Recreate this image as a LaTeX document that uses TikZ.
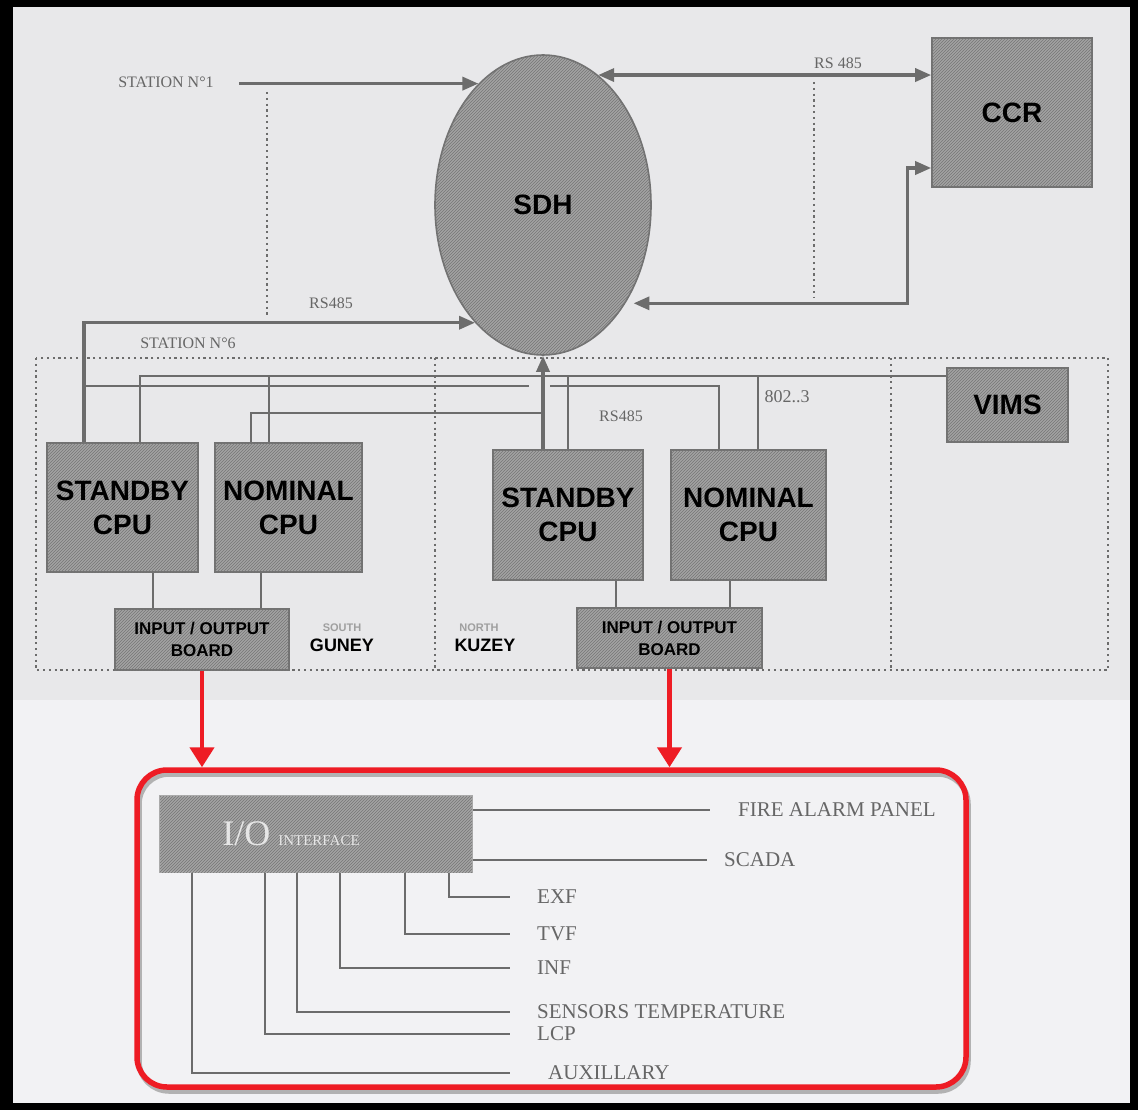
\documentclass[tikz,border=0pt]{standalone}
\usepackage{fontspec}
\setmainfont{Liberation Serif}
\newfontfamily\arialf{Liberation Sans}
\usetikzlibrary{arrows.meta,patterns,shapes.geometric}

\definecolor{blackframe}{HTML}{000000}
\definecolor{paper}{HTML}{E8E8EA}
\definecolor{paperlow}{HTML}{F2F2F4}
\definecolor{boxgrey}{HTML}{A3A3A3}
\definecolor{hatch}{HTML}{767676}
\definecolor{boxedge}{HTML}{727272}
\definecolor{wiregrey}{HTML}{6C6C6C}
\definecolor{inkgrey}{HTML}{666666}
\definecolor{iotext}{HTML}{E6E6E6}
\definecolor{alarmred}{HTML}{EE1C24}

\begin{document}
\begin{tikzpicture}[x=1pt, y=-1pt,
  >={Triangle[length=16pt,width=13pt]},
  hbox/.style={draw=boxedge, line width=1.6pt, fill=boxgrey,
    postaction={pattern=north east lines, pattern color=hatch},
    inner sep=0pt, align=center, text=black},
  bigtext/.style={font=\arialf\bfseries\fontsize{28}{34}\selectfont},
  boardtext/.style={font=\arialf\bfseries\fontsize{17}{22}\selectfont},
  link/.style={draw=wiregrey, line width=3.4pt},
  wire/.style={draw=wiregrey, line width=2.4pt},
  fine/.style={draw=wiregrey, line width=1.6pt},
  zone/.style={draw=wiregrey, line width=2.6pt, dash pattern=on 2.2pt off 3.6pt},
  lbl/.style={text=inkgrey, inner sep=0pt, font=\fontsize{16}{18}\selectfont},
  outlbl/.style={text=inkgrey, inner sep=0pt, anchor=west, font=\fontsize{21}{24}\selectfont},
  redline/.style={draw=alarmred, line width=4.5pt, -{Triangle[length=20pt,width=24pt]}}]

  \fill[blackframe] (0,0) rectangle (1138,1110);
  \fill[paperlow] (13,7) rectangle (1130,1103);
  \fill[paper] (13,7) rectangle (1130,700);
  \useasboundingbox (0,0) rectangle (1138,1110);

  % stations
  \draw[zone] (36,358) rectangle (1108,670);
  \draw[zone] (435,358) -- (435,670);
  \draw[zone] (891,358) -- (891,670);
  \draw[zone] (267,92) -- (267,317);
  \draw[zone] (814,82) -- (814,298);

  \node[hbox, ellipse, minimum width=216pt, minimum height=300pt, bigtext] (sdh) at (543,205) {SDH};
  \node[hbox, minimum width=160pt, minimum height=149pt, bigtext] (ccr) at (1012,112.5) {CCR};
  \node[hbox, minimum width=121pt, minimum height=74pt, bigtext] (vims) at (1007.5,405) {VIMS};

  \node[hbox, minimum width=151pt, minimum height=129pt, bigtext] (gsby) at (122.5,507.5) {STANDBY\\CPU};
  \node[hbox, minimum width=147pt, minimum height=129pt, bigtext] (gnom) at (288.5,507.5) {NOMINAL\\CPU};
  \node[hbox, minimum width=174pt, minimum height=61pt, boardtext] (gio) at (202,639.5) {INPUT / OUTPUT\\BOARD};
  \node[hbox, minimum width=150pt, minimum height=130pt, bigtext] (ksby) at (568,515) {STANDBY\\CPU};
  \node[hbox, minimum width=155pt, minimum height=130pt, bigtext] (knom) at (748.5,515) {NOMINAL\\CPU};
  \node[hbox, minimum width=185pt, minimum height=60pt, boardtext] (kio) at (669.5,638) {INPUT / OUTPUT\\BOARD};

  \node[lbl] (st1) at (166,82) {STATION N°1};
  \node[lbl] (rsa) at (331,303) {RS485};
  \node[lbl] (st6) at (188,343) {STATION N°6};
  \node[lbl] (rsb) at (838,63) {RS 485};
  \node[lbl] (rsc) at (621,416) {RS485};
  \node[lbl, font=\fontsize{18}{20}\selectfont] (eth) at (787,397) {802..3};
  \node[text=gray!75, inner sep=0pt, font=\arialf\bfseries\fontsize{11}{12}\selectfont] (south) at (342,628) {SOUTH};
  \node[inner sep=0pt, font=\arialf\bfseries\fontsize{18}{20}\selectfont] (guney) at (342,645) {GUNEY};
  \node[text=gray!75, inner sep=0pt, font=\arialf\bfseries\fontsize{11}{12}\selectfont] (north) at (479,628) {NORTH};
  \node[inner sep=0pt, font=\arialf\bfseries\fontsize{18}{20}\selectfont] (kuzey) at (485,645) {KUZEY};

  % links to SDH and CCR
  \draw[link,->,shorten <=25pt] (st1.east |- sdh.118) -- (sdh.118);
  \draw[link,->] ([xshift=-38.5pt]gsby.north) |- (sdh.240);
  \draw[link,<->] (sdh.67) -- (sdh.67 -| ccr.west);
  \draw[link,<->,shorten <=8pt] (sdh.-50) -| ([xshift=-24pt,yshift=-55.5pt]ccr.west) -- ([yshift=-55.5pt]ccr.west);
  \draw[link,->] (sdh.south |- ksby.north) -- (sdh.south);

  % station buses
  \coordinate (bus1) at (140,376);
  \coordinate (bus2) at (84,386);
  \coordinate (bus3) at (251,413);
  \draw[fine] (bus1 |- gsby.north) -- (bus1) -- ([yshift=29pt]vims.west);
  \draw[fine] ([xshift=-19.5pt]gnom.north) -- ([xshift=-19.5pt]gnom.north |- bus1);
  \draw[fine] (ksby.north) -- (ksby.north |- bus1);
  \draw[fine] ([xshift=9.5pt]knom.north) -- ([xshift=9.5pt]knom.north |- bus1);
  \draw[wire] (bus2) -- ([xshift=-14pt]bus2 -| sdh.south);
  \draw[wire] ([xshift=7pt]bus2 -| sdh.south) -| ([xshift=-29.5pt]knom.north);
  \draw[wire] (bus3 |- gnom.north) -- (bus3) -- (bus3 -| sdh.south);

  \draw[wire] ([xshift=30.5pt]gsby.south) -- ([xshift=30.5pt]gsby.south |- gio.north);
  \draw[wire] ([xshift=-27.5pt]gnom.south) -- ([xshift=-27.5pt]gnom.south |- gio.north);
  \draw[wire] ([xshift=48pt]ksby.south) -- ([xshift=48pt]ksby.south |- kio.north);
  \draw[wire] ([xshift=-18.5pt]knom.south) -- ([xshift=-18.5pt]knom.south |- kio.north);

  % detail of the boards
  \node[draw=alarmred, line width=5.5pt, rounded corners=30pt, minimum width=829pt, minimum height=317pt,
    preaction={draw=black!30, line width=5.5pt, transform canvas={xshift=2pt,yshift=-4pt}}] (panel) at (551.5,928.5) {};
  \draw[redline] (gio.south) -- (gio.south |- panel.north);
  \draw[redline] (kio.south) -- (kio.south |- panel.north);

  \node[hbox, draw=boxedge!60, minimum width=312pt, minimum height=76pt, text=iotext] (iof) at (316,834)
    {{\fontsize{36}{36}\selectfont I/O}\hspace{8pt}{\fontsize{15}{15}\selectfont INTERFACE}\hspace{50pt}};

  \node[outlbl] (lfire) at (738,810) {FIRE ALARM PANEL};
  \node[outlbl] (lscada) at (724,860) {SCADA};
  \node[outlbl] (lexf) at (537,897) {EXF};
  \node[outlbl] (ltvf) at (537,934) {TVF};
  \node[outlbl] (linf) at (537,968) {INF};
  \node[outlbl] (lsens) at (537,1012) {SENSORS TEMPERATURE};
  \node[outlbl] (llcp) at (537,1034) {LCP};
  \node[outlbl] (laux) at (548,1073) {AUXILLARY};

  \draw[fine] ([yshift=24pt]iof.east) -- ([xshift=-28pt]lfire.west);
  \draw[fine] ([yshift=-26pt]iof.east) -- ([xshift=-17pt]lscada.west);
  \draw[fine] ([xshift=133pt]iof.south) |- ([xshift=-27pt]lexf.west);
  \draw[fine] ([xshift=89pt]iof.south) |- ([xshift=-27pt]ltvf.west);
  \draw[fine] ([xshift=24pt]iof.south) |- ([xshift=-27pt]linf.west);
  \draw[fine] ([xshift=-19pt]iof.south) |- ([xshift=-27pt]lsens.west);
  \draw[fine] ([xshift=-51pt]iof.south) |- ([xshift=-27pt]llcp.west);
  \draw[fine] ([xshift=-124pt]iof.south) |- ([xshift=-38pt]laux.west);
\end{tikzpicture}
\end{document}
